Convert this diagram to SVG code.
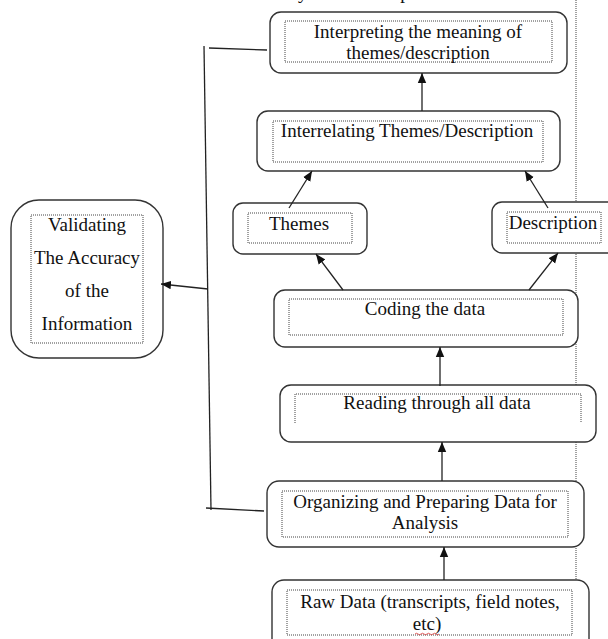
<svg xmlns="http://www.w3.org/2000/svg" width="608" height="639" viewBox="0 0 608 639">
<style>
.box{fill:#fff;stroke:#333;stroke-width:1.4}
.inner{fill:none;stroke:#444;stroke-width:1;stroke-dasharray:1 1}
.t{font-family:"Liberation Serif","Times New Roman",serif;font-size:19px;fill:#111;text-anchor:middle}
.c{fill:none;stroke:#222;stroke-width:1.3}
</style>
<defs>
<marker id="ah" markerUnits="userSpaceOnUse" markerWidth="10" markerHeight="10" viewBox="0 0 10 10" refX="10" refY="5" orient="auto">
<path d="M0,0.8 L10,5 L0,9.2 Z" fill="#111"/>
</marker>
</defs>
<rect width="608" height="639" fill="#fff"/>
<text x="261" y="-1" class="t" style="text-anchor:start">Analysis and Interpretation</text>
<line x1="576" y1="0" x2="576" y2="600" stroke="#444" stroke-width="1" stroke-dasharray="1 1"/>

<g id="interpreting">
<rect class="box" x="270" y="12" width="297" height="61" rx="11"/>
<rect class="inner" x="285" y="21" width="267" height="41"/>
<text class="t" x="418" y="38">Interpreting the meaning of</text>
<text class="t" x="418" y="59">themes/description</text>
</g>
<g id="interrelating">
<rect class="box" x="257" y="111" width="303" height="60" rx="11"/>
<rect class="inner" x="273" y="121" width="270" height="41"/>
<text class="t" x="407" y="137">Interrelating Themes/Description</text>
</g>
<g id="themes">
<rect class="box" x="233" y="203" width="134" height="51" rx="10"/>
<rect class="inner" x="248" y="213" width="104" height="30"/>
<text class="t" x="299" y="230">Themes</text>
</g>
<g id="description">
<rect class="box" x="492" y="202" width="135" height="51" rx="10"/>
<rect class="inner" x="507" y="212" width="94" height="31"/>
<text class="t" x="553" y="229">Description</text>
</g>
<g id="validating">
<rect class="box" x="11" y="200" width="152" height="158" rx="28"/>
<rect class="inner" x="31" y="215" width="112" height="128"/>
<text class="t" x="87" y="231">Validating</text>
<text class="t" x="87" y="264">The Accuracy</text>
<text class="t" x="87" y="297">of the</text>
<text class="t" x="87" y="330">Information</text>
</g>
<g id="coding">
<rect class="box" x="274" y="290" width="304" height="57" rx="11"/>
<rect class="inner" x="289" y="299" width="274" height="36"/>
<text class="t" x="425" y="315">Coding the data</text>
</g>
<g id="reading">
<rect class="box" x="280" y="385" width="316" height="57" rx="11"/>
<path class="inner" d="M295,423 V394 H581 V423"/>
<text class="t" x="437" y="409">Reading through all data</text>
</g>
<g id="organizing">
<rect class="box" x="267" y="481" width="317" height="66" rx="12"/>
<rect class="inner" x="282" y="491" width="286" height="46"/>
<text class="t" x="425" y="508">Organizing and Preparing Data for</text>
<text class="t" x="425" y="529">Analysis</text>
</g>
<g id="rawdata">
<rect class="box" x="272" y="580" width="317" height="90" rx="12"/>
<rect class="inner" x="287" y="590" width="285" height="45"/>
<text class="t" x="430" y="608">Raw Data (transcripts, field notes,</text>
<text class="t" x="427" y="630">etc)</text>
<path d="M415,634 q1.5,-1.5 3,0 t3,0 t3,0 t3,0 t3,0 t3,0 t3,0 t3,0" fill="none" stroke="#d33" stroke-width="0.8"/>
</g>

<g id="connectors">
<line class="c" x1="422" y1="111" x2="422" y2="73" marker-end="url(#ah)"/>
<line class="c" x1="289" y1="208" x2="312" y2="171" marker-end="url(#ah)"/>
<line class="c" x1="548" y1="208" x2="525" y2="171" marker-end="url(#ah)"/>
<line class="c" x1="343" y1="290" x2="316" y2="254" marker-end="url(#ah)"/>
<line class="c" x1="529" y1="290" x2="558" y2="253" marker-end="url(#ah)"/>
<line class="c" x1="440" y1="386" x2="440" y2="347" marker-end="url(#ah)"/>
<line class="c" x1="442" y1="481" x2="442" y2="442" marker-end="url(#ah)"/>
<line class="c" x1="444" y1="580" x2="444" y2="547" marker-end="url(#ah)"/>
<line class="c" x1="204" y1="46" x2="211" y2="510"/>
<line class="c" x1="209" y1="48" x2="267" y2="50"/>
<line class="c" x1="206" y1="508" x2="264" y2="511"/>
<line class="c" x1="208" y1="289" x2="161" y2="284" marker-end="url(#ah)"/>
</g>
</svg>
